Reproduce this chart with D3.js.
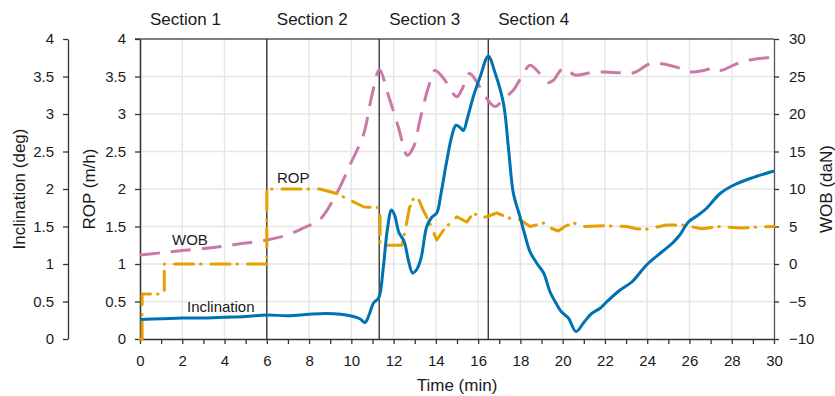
<!DOCTYPE html>
<html>
<head>
<meta charset="utf-8">
<script src="https://cdn.jsdelivr.net/npm/d3@7"></script>
<style>
  body { margin: 0; background: #fff; }
  svg text { font-family: "Liberation Sans", Arial, Helvetica, sans-serif; fill: #1a1a1a; }
</style>
</head>
<body>
<script>
// time in minutes
var incTime = [0, 1, 2, 3, 4, 5, 6, 7, 8, 8.8, 9.5, 10.1, 10.4, 10.65, 10.85, 11.05, 11.3, 11.5, 11.7, 11.9,
  12.05, 12.25, 12.5, 12.7, 12.9, 13.1, 13.3, 13.57, 13.8, 14.04, 14.25, 14.5, 14.75, 14.95, 15.15, 15.3, 15.5,
  15.77, 16.1, 16.48, 16.8, 17.2, 17.45, 17.67, 17.98, 18.2, 18.46, 18.8, 19.1, 19.4, 19.7, 19.95, 20.27, 20.63,
  21.0, 21.37, 21.77, 22.1, 22.7, 23.27, 23.98, 24.69, 25.2, 25.55, 25.95, 26.4, 26.8, 27.45, 28.08, 28.87, 30];
var incValue = [0.26, 0.27, 0.28, 0.28, 0.29, 0.30, 0.32, 0.31, 0.33, 0.34, 0.33, 0.30, 0.27, 0.22, 0.33, 0.48, 0.55, 0.92, 1.45, 1.72,
  1.65, 1.42, 1.30, 1.05, 0.88, 0.93, 1.08, 1.50, 1.62, 1.68, 1.95, 2.35, 2.70, 2.85, 2.82, 2.78, 2.95,
  3.23, 3.50, 3.77, 3.55, 3.14, 2.50, 1.94, 1.63, 1.40, 1.16, 1.00, 0.88, 0.63, 0.47, 0.36, 0.28, 0.10,
  0.22, 0.34, 0.41, 0.50, 0.65, 0.76, 0.99, 1.16, 1.28, 1.39, 1.56, 1.65, 1.74, 1.94, 2.05, 2.14, 2.24];

var ropTime = [0, 0.1, 0.1, 1.15, 1.15, 6, 6, 8.5, 9.3, 9.94, 10.6, 11.36, 11.36, 12.4, 12.55, 12.75, 13.0, 13.2,
  13.4, 13.7, 14.04, 14.43, 14.99, 15.46, 15.78, 16.1, 16.4, 16.88, 17.5, 17.98, 18.46, 19.17, 19.5, 19.8, 20.1,
  20.5, 20.98, 22, 23.03, 23.5, 23.9, 24.9, 25.7, 26.2, 26.6, 27.45, 28.4, 30];
var ropValue = [0, 0, 0.6, 0.6, 1.0, 1.0, 2.0, 2.0, 1.94, 1.85, 1.76, 1.75, 1.25, 1.25, 1.45, 1.75, 1.91, 1.85,
  1.72, 1.55, 1.32, 1.48, 1.63, 1.56, 1.68, 1.62, 1.63, 1.68, 1.61, 1.59, 1.50, 1.55, 1.47, 1.44, 1.50,
  1.55, 1.50, 1.51, 1.50, 1.47, 1.46, 1.52, 1.52, 1.49, 1.47, 1.50, 1.48, 1.50];

var wobTime = [0, 1, 2, 3.15, 4, 5, 6, 7, 7.73, 8.5, 9.3, 10.0, 10.57, 10.96, 11.33, 11.75, 12.22, 12.65, 12.94,
  13.25, 13.65, 13.96, 14.35, 14.99, 15.22, 15.6, 15.93, 16.4, 16.8, 17.2, 17.67, 18.06, 18.46, 18.85, 19.32,
  19.56, 20.03, 20.59, 21.3, 22.0, 22.7, 23.35, 24.14, 24.69, 25.55, 26.03, 26.8, 27.13, 27.45, 28.24, 28.87, 30];
var wobValue = [1.2, 1.5, 1.8, 2.1, 2.4, 2.8, 3.2, 3.9, 4.8, 5.9, 9.4, 13.6, 17.2, 22.3, 25.9, 22.5, 18.3, 14.5, 15.6,
  19.2, 23.6, 25.8, 24.8, 22.3, 23.2, 25.4, 24.3, 22.1, 21.0, 22.0, 23.2, 25.0, 26.5, 25.6, 24.2,
  24.5, 26.1, 25.2, 25.5, 25.6, 25.5, 25.5, 26.7, 26.7, 26.1, 25.6, 25.9, 26.2, 25.8, 26.7, 27.2, 27.6];

var sectionStarts = [0, 6, 11.32, 16.48];
var sectionNames = ["Section 1", "Section 2", "Section 3", "Section 4"];

var blue = "#0072B2", orange = "#E69F00", pink = "#CC79A7";

var svg = d3.select("body").append("svg").attr("width", 835).attr("height", 396);

var x = d3.scaleLinear().domain([0, 30]).range([140, 774]);
var yL = d3.scaleLinear().domain([0, 4]).range([339, 39]);
var yR = d3.scaleLinear().domain([-10, 30]).range([339, 39]);

function zip(a, b){
  var out = [];
  for(var i = 0; i < a.length; i++) out.push([a[i], b[i]]);
  return out;
}

// grid
var grid = svg.append("g");
d3.range(2, 30, 2).forEach(function(t){
  grid.append("line").attr("x1", x(t)).attr("x2", x(t)).attr("y1", yL(0)).attr("y2", yL(4))
    .attr("stroke", "#e6e6e6").attr("stroke-width", 1.5);
});
d3.range(0.5, 4, 0.5).forEach(function(v){
  grid.append("line").attr("x1", x(0)).attr("x2", x(30)).attr("y1", yL(v)).attr("y2", yL(v))
    .attr("stroke", "#e6e6e6").attr("stroke-width", 1.5);
});

// top frame line
svg.append("line").attr("x1", 135).attr("x2", x(30)).attr("y1", yL(4)).attr("y2", yL(4))
  .attr("stroke", "#555").attr("stroke-width", 1.3);

// section lines and labels
sectionStarts.forEach(function(t, i){
  if(t > 0){
    svg.append("line").attr("x1", x(t)).attr("x2", x(t)).attr("y1", yL(4)).attr("y2", yL(0))
      .attr("stroke", "#3a3a3a").attr("stroke-width", 1.4);
  }
  svg.append("text").text(sectionNames[i]).attr("x", x(t) + 10).attr("y", 25)
    .attr("font-size", 17);
});

function styleAxis(g){
  g.selectAll("text").attr("font-size", 15).attr("font-family", "Liberation Sans, Arial, sans-serif").attr("fill", "#1a1a1a");
  g.selectAll("line").attr("stroke", "#333").attr("stroke-width", 1.3);
  g.select(".domain").attr("stroke", "#333").attr("stroke-width", 1.3);
}

var halfTicks = d3.range(0, 4.01, 0.5);

// ROP axis
var gRop = svg.append("g").attr("transform", "translate(140,0)")
  .call(d3.axisLeft(yL).tickValues(halfTicks).tickFormat(function(d){ return d; }).tickSize(5).tickSizeOuter(0).tickPadding(9));
styleAxis(gRop);
gRop.select(".domain").attr("stroke", "#3a3a3a").attr("stroke-width", 1.6);

// Inclination axis
var gInc = svg.append("g").attr("transform", "translate(68,0)")
  .call(d3.axisLeft(yL).tickValues(halfTicks).tickFormat(function(d){ return d; }).tickSize(5).tickSizeOuter(0).tickPadding(9));
styleAxis(gInc);

// WOB axis
var gWob = svg.append("g").attr("transform", "translate(774,0)")
  .call(d3.axisRight(yR).tickValues(d3.range(-10, 31, 5)).tickSize(5).tickSizeOuter(0).tickPadding(10));
styleAxis(gWob);
gWob.select(".domain").attr("stroke", "#555");

// time axis, minor ticks every minute
var gTime = svg.append("g").attr("transform", "translate(0,339)")
  .call(d3.axisBottom(x).tickValues(d3.range(0, 31, 1))
    .tickFormat(function(d){ return d % 2 == 0 ? d : ""; }).tickSize(5).tickSizeOuter(0).tickPadding(11));
styleAxis(gTime);

// series
svg.append("path").datum(zip(wobTime, wobValue))
  .attr("d", d3.line().x(function(d){ return x(d[0]); }).y(function(d){ return yR(d[1]); }).curve(d3.curveCatmullRom.alpha(0.5)))
  .attr("fill", "none").attr("stroke", pink).attr("stroke-width", 3)
  .attr("stroke-dasharray", "20,11");

svg.append("path").datum(zip(ropTime, ropValue))
  .attr("d", d3.line().x(function(d){ return x(d[0]); }).y(function(d){ return yL(d[1]); }))
  .attr("fill", "none").attr("stroke", orange).attr("stroke-width", 3)
  .attr("stroke-dasharray", "19,7,0.5,10").attr("stroke-linecap", "round").attr("stroke-linejoin", "round");

svg.append("path").datum(zip(incTime, incValue))
  .attr("d", d3.line().x(function(d){ return x(d[0]); }).y(function(d){ return yL(d[1]); }).curve(d3.curveCatmullRom.alpha(0.5)))
  .attr("fill", "none").attr("stroke", blue).attr("stroke-width", 3).attr("stroke-linejoin", "round");

// series labels
svg.append("text").text("WOB").attr("x", 172).attr("y", 245).attr("font-size", 15);
svg.append("text").text("Inclination").attr("x", 187).attr("y", 312).attr("font-size", 15);
svg.append("text").text("ROP").attr("x", 277).attr("y", 183).attr("font-size", 15);

// axis titles
svg.append("text").text("Time (min)").attr("x", 457).attr("y", 391)
  .attr("text-anchor", "middle").attr("font-size", 17);
svg.append("text").text("Inclination (deg)").attr("text-anchor", "middle").attr("font-size", 17)
  .attr("transform", "translate(25,189) rotate(-90)");
svg.append("text").text("ROP (m/h)").attr("text-anchor", "middle").attr("font-size", 17)
  .attr("transform", "translate(95,189) rotate(-90)");
svg.append("text").text("WOB (daN)").attr("text-anchor", "middle").attr("font-size", 17)
  .attr("transform", "translate(832,189) rotate(-90)");
</script>
</body>
</html>
